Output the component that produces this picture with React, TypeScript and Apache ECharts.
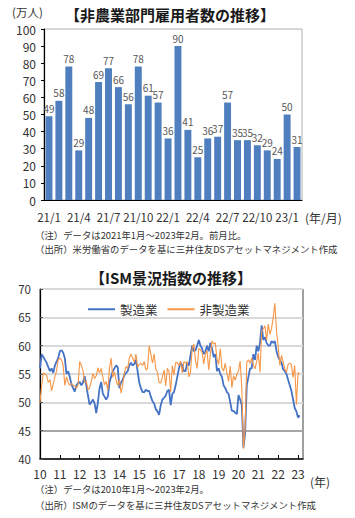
import React, { useEffect, useRef } from 'react';
import * as echarts from 'echarts';

// ---- Chart 1: 非農業部門雇用者数 (前月比, 万人) ----
const barMonths = [
  '21/1', '21/2', '21/3', '21/4', '21/5', '21/6', '21/7', '21/8', '21/9', '21/10', '21/11', '21/12',
  '22/1', '22/2', '22/3', '22/4', '22/5', '22/6', '22/7', '22/8', '22/9', '22/10', '22/11', '22/12',
  '23/1', '23/2',
];
const payrollChange = [
  49, 58, 78, 29, 48, 69, 77, 66, 56, 78, 61, 57,
  36, 90, 41, 25, 36, 37, 57, 35, 35, 32, 29, 24,
  50, 31,
];

// ---- Chart 2: ISM景況指数 ----
const yearLabels = ['10', '11', '12', '13', '14', '15', '16', '17', '18', '19', '20', '21', '22', '23'];
const manufacturing = [
  56.0, 58.5, 58.0, 57.5, 57.0, 56.2, 55.5, 56.0, 55.2, 56.5, 57.2, 57.8,
  59.0, 59.2, 58.8, 57.8, 55.0, 55.5, 54.5, 53.2, 52.5, 51.9, 53.0, 53.4,
  53.6, 53.0, 53.5, 54.6, 53.0, 51.2, 49.6, 50.0, 50.5, 49.8, 48.1, 50.0,
  52.5, 53.6, 51.5, 51.0, 50.5, 51.0, 53.5, 54.5, 55.5, 56.0, 56.5, 56.2,
  52.5, 53.5, 54.0, 54.8, 55.2, 55.5, 56.5, 57.0, 56.5, 56.8, 57.5, 55.5,
  53.5, 52.5, 51.8, 51.8, 52.2, 52.0, 52.0, 51.0, 50.2, 49.8, 48.8, 48.4,
  47.8, 49.5, 50.5, 50.8, 51.2, 52.0, 52.2, 49.5, 51.5, 51.8, 53.0, 54.5,
  56.0, 57.0, 56.5, 55.5, 55.5, 57.0, 56.5, 58.3, 60.0, 59.0, 59.2, 60.0,
  61.0, 60.0, 59.5, 58.5, 59.0, 60.0, 59.0, 60.5, 59.5, 58.0, 58.5, 55.5,
  56.0, 55.0, 54.5, 53.0, 52.5, 51.8, 51.5, 50.0, 48.5, 48.5, 48.2, 47.9,
  51.3, 50.5, 49.5, 42.0, 44.5, 53.0, 54.5, 56.0, 56.0, 58.5, 57.5, 60.0,
  59.0, 60.5, 63.6, 61.0, 61.5, 60.5, 60.0, 60.0, 60.8, 60.5, 60.8, 59.0,
  58.0, 57.5, 57.0, 55.8, 55.5, 55.0, 54.0, 53.0, 52.0, 50.5, 49.0, 48.4,
  47.3, 47.7,
];
const nonManufacturing = [
  50.0, 53.0, 55.2, 55.0, 54.8, 53.5, 54.0, 52.0, 53.2, 54.5, 55.5, 57.5,
  57.8, 57.5, 56.5, 53.0, 54.5, 53.5, 53.0, 53.3, 53.0, 52.9, 52.5, 53.0,
  57.2, 56.5, 55.6, 53.5, 53.7, 52.2, 52.6, 53.7, 55.1, 54.2, 54.7, 56.1,
  55.2, 56.0, 54.4, 53.1, 53.7, 52.2, 56.0, 57.8, 54.4, 55.4, 53.9, 53.0,
  54.0, 51.6, 53.1, 55.2, 56.3, 56.0, 57.8, 58.5, 57.8, 57.1, 58.5, 56.2,
  56.7, 56.9, 56.5, 57.2, 55.7, 56.0, 60.0, 58.5, 56.9, 58.5, 55.9, 55.3,
  53.5, 53.4, 54.5, 55.7, 52.9, 56.0, 55.5, 51.8, 56.5, 54.8, 57.0, 57.0,
  56.5, 57.3, 55.2, 57.2, 56.9, 57.2, 54.5, 55.3, 59.5, 60.3, 57.4, 56.0,
  59.5, 59.3, 58.8, 56.8, 58.6, 59.1, 55.7, 58.5, 60.8, 60.3, 60.5, 57.6,
  56.7, 59.5, 56.1, 55.5, 56.9, 55.1, 53.7, 56.4, 52.6, 54.7, 53.9, 55.0,
  55.5, 57.3, 52.5, 41.8, 45.4, 57.1, 57.5, 56.9, 57.8, 56.6, 55.9, 57.2,
  58.7, 55.3, 62.5, 63.0, 63.5, 61.0, 63.8, 62.0, 63.0, 65.0, 67.5, 62.5,
  59.9, 56.5, 58.3, 57.1, 55.9, 55.3, 56.7, 56.9, 56.7, 54.4, 56.5, 49.6,
  55.2, 55.1,
];

// monthly category list (years × 12), a little longer than the data so the plot ends past 23/2
const ismMonths: string[] = [];
yearLabels.forEach((y) => {
  for (let m = 1; m <= 12; m++) ismMonths.push(`${y}/${m}`);
});
const ismCategories = ismMonths.slice(0, manufacturing.length + 2);

const FONT = '"Noto Sans CJK JP", "Noto Sans", sans-serif';
const TXT = '#333333';

function txt(x: number, y: number, text: string, size: number, opts: any = {}) {
  return {
    type: 'text',
    x,
    y,
    silent: true,
    style: {
      text,
      fontSize: size,
      fontFamily: FONT,
      fontWeight: opts.bold ? 'bold' : 'normal',
      fill: opts.color || TXT,
      align: opts.align || 'left',
      verticalAlign: 'middle',
      textAlign: opts.align || 'left',
      textVerticalAlign: 'middle',
    },
  };
}

export default function App() {
  const ref = useRef<HTMLDivElement>(null);
  useEffect(() => {
    if (!ref.current) return;
    const chart = echarts.init(ref.current, undefined, { renderer: 'svg' });
    const yearTick = (i: number) => i % 12 === 0;
    const option: any = {
      animation: false,
      backgroundColor: '#ffffff',
      textStyle: { fontFamily: FONT },
      grid: [
        { left: 44, top: 29, width: 258, height: 171, show: true, borderColor: '#b0b0b0', borderWidth: 1 },
        { left: 40, top: 289, width: 263, height: 170, show: true, borderColor: '#404040', borderWidth: 1 },
      ],
      legend: {
        data: ['製造業', '非製造業'],
        left: 83,
        top: 298,
        icon: 'rect',
        itemWidth: 27,
        itemHeight: 2,
        itemGap: 10,
        textStyle: { fontSize: 12.5, color: TXT, fontFamily: FONT },
      },
      xAxis: [
        {
          type: 'category',
          gridIndex: 0,
          data: barMonths,
          axisLine: { lineStyle: { color: '#000', width: 1.2 } },
          axisTick: { inside: true, length: 3, interval: 0, lineStyle: { color: '#333' } },
          axisLabel: { interval: 2, fontSize: 11.5, color: TXT, margin: 11, hideOverlap: false },
        },
        {
          type: 'category',
          gridIndex: 1,
          data: ismCategories,
          boundaryGap: false,
          axisLine: { lineStyle: { color: '#000', width: 1.5 } },
          axisTick: { inside: true, length: 4, interval: yearTick, lineStyle: { color: '#000' } },
          axisLabel: {
            interval: yearTick,
            formatter: (v: string) => v.split('/')[0],
            fontSize: 12,
            color: TXT,
            margin: 8,
            hideOverlap: false,
          },
        },
      ],
      yAxis: [
        {
          type: 'value',
          gridIndex: 0,
          min: 0,
          max: 100,
          interval: 10,
          axisLine: { show: true, lineStyle: { color: '#000', width: 1.2 } },
          axisTick: { show: true, length: 3, lineStyle: { color: '#000' } },
          splitLine: { show: false },
          axisLabel: { fontSize: 12, color: TXT, margin: 8 },
        },
        {
          type: 'value',
          gridIndex: 1,
          min: 40,
          max: 70,
          interval: 5,
          axisLine: { show: true, lineStyle: { color: '#000', width: 1.2 } },
          axisTick: { show: true, inside: true, length: 3, lineStyle: { color: '#555' } },
          splitLine: {
            show: true,
            lineStyle: {
              color: ['#d9d9d9', '#a6a6a6', '#d9d9d9', '#d9d9d9', '#d9d9d9', '#d9d9d9', '#d9d9d9'],
              width: 2,
            },
          },
          axisLabel: { fontSize: 11.5, color: TXT, margin: 9 },
        },
      ],
      series: [
        {
          type: 'bar',
          xAxisIndex: 0,
          yAxisIndex: 0,
          data: payrollChange,
          barCategoryGap: '30%',
          itemStyle: { color: '#4F7FBF' },
          label: { show: true, position: 'top', distance: 3, fontSize: 10, color: '#595959', fontFamily: FONT },
        },
        {
          type: 'line',
          name: '製造業',
          xAxisIndex: 1,
          yAxisIndex: 1,
          data: manufacturing,
          symbol: 'none',
          lineStyle: { color: '#4472C4', width: 1.8 },
          itemStyle: { color: '#4472C4' },
        },
        {
          type: 'line',
          name: '非製造業',
          xAxisIndex: 1,
          yAxisIndex: 1,
          data: nonManufacturing,
          symbol: 'none',
          lineStyle: { color: '#F79646', width: 1.1 },
          itemStyle: { color: '#F79646' },
        },
      ],
      graphic: [
        txt(170, 14, '【非農業部門雇用者数の推移】', 15, { bold: true, align: 'center', color: '#1a1a1a' }),
        txt(12, 12, '(万人)', 11.5),
        txt(305, 217, '(年/月)', 12),
        txt(35, 235, '（注）データは2021年1月～2023年2月。前月比。', 9.4),
        txt(35, 249, '（出所）米労働省のデータを基に三井住友DSアセットマネジメント作成', 9.4),
        txt(171, 277, '【ISM景況指数の推移】', 15, { bold: true, align: 'center', color: '#1a1a1a' }),
        txt(310, 481, '(年)', 12),
        txt(35, 489, '（注）データは2010年1月～2023年2月。', 9.4),
        txt(35, 505, '（出所）ISMのデータを基に三井住友DSアセットマネジメント作成', 9.4),
      ],
    };
    chart.setOption(option);
    return () => chart.dispose();
  }, []);
  return (
    <div
      ref={ref}
      style={{ position: 'absolute', left: 0, top: 0, width: 355, height: 518, background: '#fff' }}
    />
  );
}
